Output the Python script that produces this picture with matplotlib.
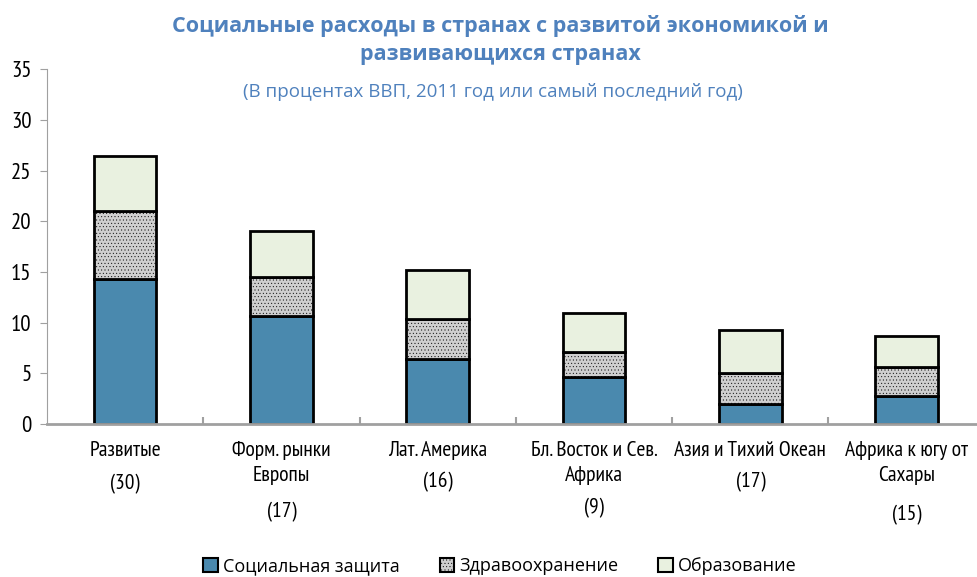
import matplotlib.pyplot as plt
import matplotlib.transforms as mtransforms
from matplotlib.patches import Patch
import numpy as np

plt.rcParams['hatch.linewidth'] = 0.3

names = ['Развитые', 'Форм. рынки\nЕвропы', 'Лат. Америка', 'Бл. Восток и Сев.\nАфрика',
         'Азия и Тихий Океан', 'Африка к югу от\nСахары']
counts = ['(30)', '(17)', '(16)', '(9)', '(17)', '(15)']
social = [14.3, 10.7, 6.4, 4.6, 2.0, 2.8]
health = [6.7, 3.8, 4.0, 2.5, 3.0, 2.8]
education = [5.4, 4.5, 4.8, 3.9, 4.3, 3.1]

narrow = ['PT Sans Narrow', 'DejaVu Sans']
blue = '#4f81bd'

fig = plt.figure(figsize=(9.77, 5.77), dpi=100)
ax = fig.add_axes([0.048, 0.265, 0.96, 0.615])

x = np.arange(len(names))
w = 0.4
s = np.array(social)
h = np.array(health)
ax.bar(x, social, w, color='#4a89ae', edgecolor='black', linewidth=2)
ax.bar(x, health, w, bottom=s, color='#cfcfcf', edgecolor='black', linewidth=2,
       hatch='.....')
ax.bar(x, education, w, bottom=s + h, color='#e9f1e0', edgecolor='black', linewidth=2)

ax.set_xlim(-0.5, 5.5)
ax.set_ylim(0, 35)
ax.set_yticks(range(0, 36, 5))
ax.tick_params(axis='y', labelsize=16.5, length=5, color='#a0a0a0', pad=6)
for lab in ax.get_yticklabels():
    lab.set_family(narrow)
ax.set_xticks(np.arange(0.5, 5.5, 1))
ax.set_xticklabels([])
ax.tick_params(axis='x', direction='in', length=5, color='#a0a0a0', width=1.5)
for sp in ['top', 'right']:
    ax.spines[sp].set_visible(False)
ax.spines['left'].set_color('#a0a0a0')
ax.spines['bottom'].set_color('#a0a0a0')
ax.spines['bottom'].set_linewidth(2)

trans = mtransforms.blended_transform_factory(ax.transData, fig.transFigure)
count_y = [484, 512, 482, 508, 482, 515]
for i in range(len(names)):
    ax.text(x[i], 1 - 441 / 577, names[i], transform=trans, ha='center', va='top',
            fontsize=15.5, family=narrow, linespacing=1.4)
    ax.text(x[i], 1 - count_y[i] / 577, counts[i], transform=trans, ha='center',
            va='center', fontsize=15.5, family=narrow)

fig.text(0.512, 1 - 40 / 577,
         'Социальные расходы в странах с развитой экономикой и\nразвивающихся странах',
         ha='center', va='center', fontsize=15.5, fontweight='bold', color=blue,
         family='Open Sans', linespacing=1.4)
fig.text(0.505, 1 - 92 / 577, '(В процентах ВВП, 2011 год или самый последний год)',
         ha='center', va='center', fontsize=13.5, color=blue, family='Open Sans')

handles = [Patch(facecolor='#4a89ae', edgecolor='black', linewidth=1.5),
           Patch(facecolor='#cfcfcf', edgecolor='black', linewidth=1.5, hatch='.....'),
           Patch(facecolor='#e9f1e0', edgecolor='black', linewidth=1.5)]
fig.legend(handles, ['Социальная защита', 'Здравоохранение', 'Образование'],
           loc='center', bbox_to_anchor=(0.512, 1 - 566 / 577), ncol=3, frameon=False,
           prop={'family': 'Open Sans', 'size': 13}, handlelength=0.8, handleheight=0.8,
           handletextpad=0.3, columnspacing=2.2)

fig.savefig('out.png', dpi=100)
